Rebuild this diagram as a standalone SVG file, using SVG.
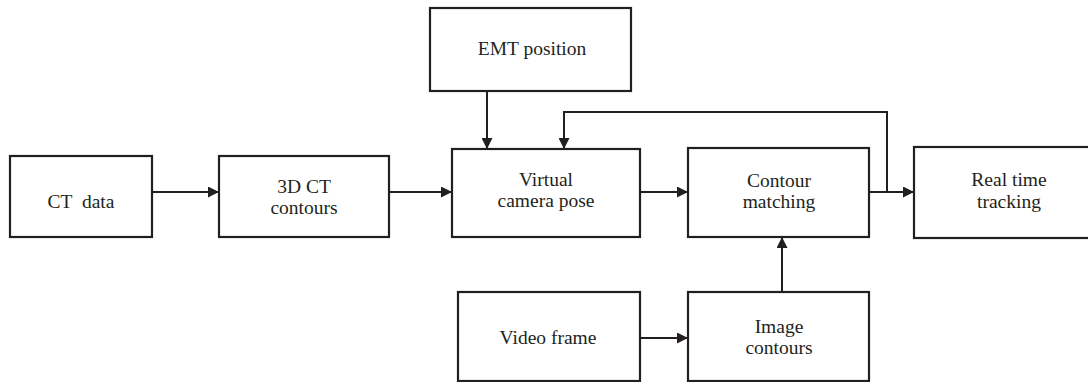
<svg xmlns="http://www.w3.org/2000/svg" width="1088" height="382" viewBox="0 0 1088 382">
<style>
.box{fill:#fff;stroke:#231f20;stroke-width:2.2}
.lbl{font-family:"Liberation Serif","Times New Roman",serif;font-size:19.5px;fill:#231f20;text-anchor:middle}
.ln{fill:none;stroke:#231f20;stroke-width:2}
</style>
<defs>
<marker id="ah" viewBox="0 0 10 10" refX="10" refY="5" markerWidth="11" markerHeight="11" markerUnits="userSpaceOnUse" orient="auto">
<path d="M0,0 L10,5 L0,10 Z" fill="#231f20"/>
</marker>
</defs>
<rect width="1088" height="382" fill="#fff"/>
<g id="connectors">
<line class="ln" x1="152" y1="192" x2="219" y2="192" marker-end="url(#ah)"/>
<line class="ln" x1="389" y1="192" x2="452" y2="192" marker-end="url(#ah)"/>
<line class="ln" x1="640" y1="192" x2="688" y2="192" marker-end="url(#ah)"/>
<line class="ln" x1="869" y1="192" x2="914" y2="192" marker-end="url(#ah)"/>
<polyline class="ln" points="887,192 887,112 564,112 564,149" marker-end="url(#ah)"/>
<line class="ln" x1="487" y1="91" x2="487" y2="149" marker-end="url(#ah)"/>
<line class="ln" x1="640" y1="338" x2="688" y2="338" marker-end="url(#ah)"/>
<line class="ln" x1="782" y1="292" x2="782" y2="237" marker-end="url(#ah)"/>
</g>
<g id="ct-data">
<rect class="box" x="10" y="156" width="142" height="81"/>
<text class="lbl" x="81" y="208" xml:space="preserve">CT  data</text>
</g>
<g id="ct-contours">
<rect class="box" x="219" y="156" width="170" height="81"/>
<text class="lbl" x="304" y="193">3D CT</text>
<text class="lbl" x="304" y="214">contours</text>
</g>
<g id="emt-position">
<rect class="box" x="430" y="8" width="201" height="83"/>
<text class="lbl" x="532" y="55">EMT position</text>
</g>
<g id="virtual-camera-pose">
<rect class="box" x="452" y="149" width="188" height="88"/>
<text class="lbl" x="546" y="186">Virtual</text>
<text class="lbl" x="546" y="207">camera pose</text>
</g>
<g id="contour-matching">
<rect class="box" x="688" y="148" width="181" height="89"/>
<text class="lbl" x="779" y="187">Contour</text>
<text class="lbl" x="779" y="208">matching</text>
</g>
<g id="real-time-tracking">
<rect class="box" x="914" y="147" width="190" height="91"/>
<text class="lbl" x="1009" y="186">Real time</text>
<text class="lbl" x="1009" y="208">tracking</text>
</g>
<g id="video-frame">
<rect class="box" x="458" y="292" width="182" height="89"/>
<text class="lbl" x="548" y="344">Video frame</text>
</g>
<g id="image-contours">
<rect class="box" x="688" y="292" width="181" height="89"/>
<text class="lbl" x="779" y="333">Image</text>
<text class="lbl" x="779" y="354">contours</text>
</g>
</svg>
